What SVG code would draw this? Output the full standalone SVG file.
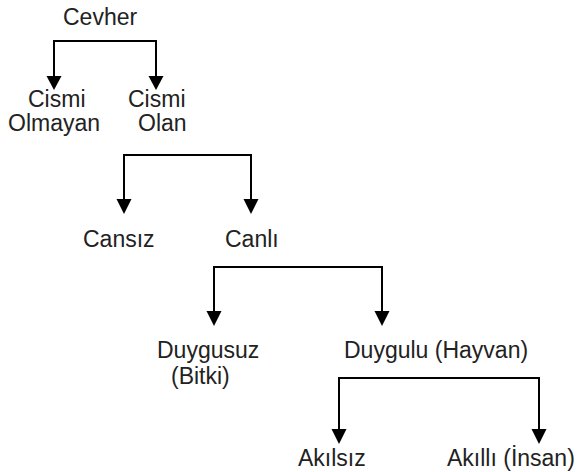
<svg xmlns="http://www.w3.org/2000/svg" width="582" height="472" viewBox="0 0 582 472">
<defs>
<style>
.t{font-family:"Liberation Sans",Arial,sans-serif;font-size:23px;fill:#222;}
.c{fill:none;stroke:#000;stroke-width:2;}
.h{fill:#000;}
</style>
</defs>
<rect width="582" height="472" fill="#fff"/>
<g id="connectors">
<path class="c" d="M54,76 V41 H156 V76"/>
<path class="h" d="M46.5,76 H61.5 L54,90 Z"/>
<path class="h" d="M148.5,76 H163.5 L156,90 Z"/>
<path class="c" d="M124,200 V155 H251 V200"/>
<path class="h" d="M116.5,199 H131.5 L124,214 Z"/>
<path class="h" d="M243.5,199 H258.5 L251,214 Z"/>
<path class="c" d="M214,312 V267 H382 V312"/>
<path class="h" d="M206.5,311 H221.5 L214,326 Z"/>
<path class="h" d="M374.5,311 H389.5 L382,326 Z"/>
<path class="c" d="M339,430 V378 H539 V430"/>
<path class="h" d="M331.5,429 H346.5 L339,444 Z"/>
<path class="h" d="M531.5,429 H546.5 L539,444 Z"/>
</g>
<g id="cevher"><text class="t" x="63" y="25">Cevher</text></g>
<g id="cismi-olmayan"><text class="t" x="28" y="107">Cismi</text><text class="t" x="8" y="131">Olmayan</text></g>
<g id="cismi-olan"><text class="t" x="128" y="107">Cismi</text><text class="t" x="138" y="131">Olan</text></g>
<g id="cansiz"><text class="t" x="83" y="247">Cansız</text></g>
<g id="canli"><text class="t" x="225" y="247">Canlı</text></g>
<g id="duygusuz"><text class="t" x="157" y="358">Duygusuz</text><text class="t" x="171" y="384">(Bitki)</text></g>
<g id="duygulu"><text class="t" x="344" y="358">Duygulu (Hayvan)</text></g>
<g id="akilsiz"><text class="t" x="298" y="466">Akılsız</text></g>
<g id="akilli"><text class="t" x="447" y="466">Akıllı (İnsan)</text></g>
</svg>
